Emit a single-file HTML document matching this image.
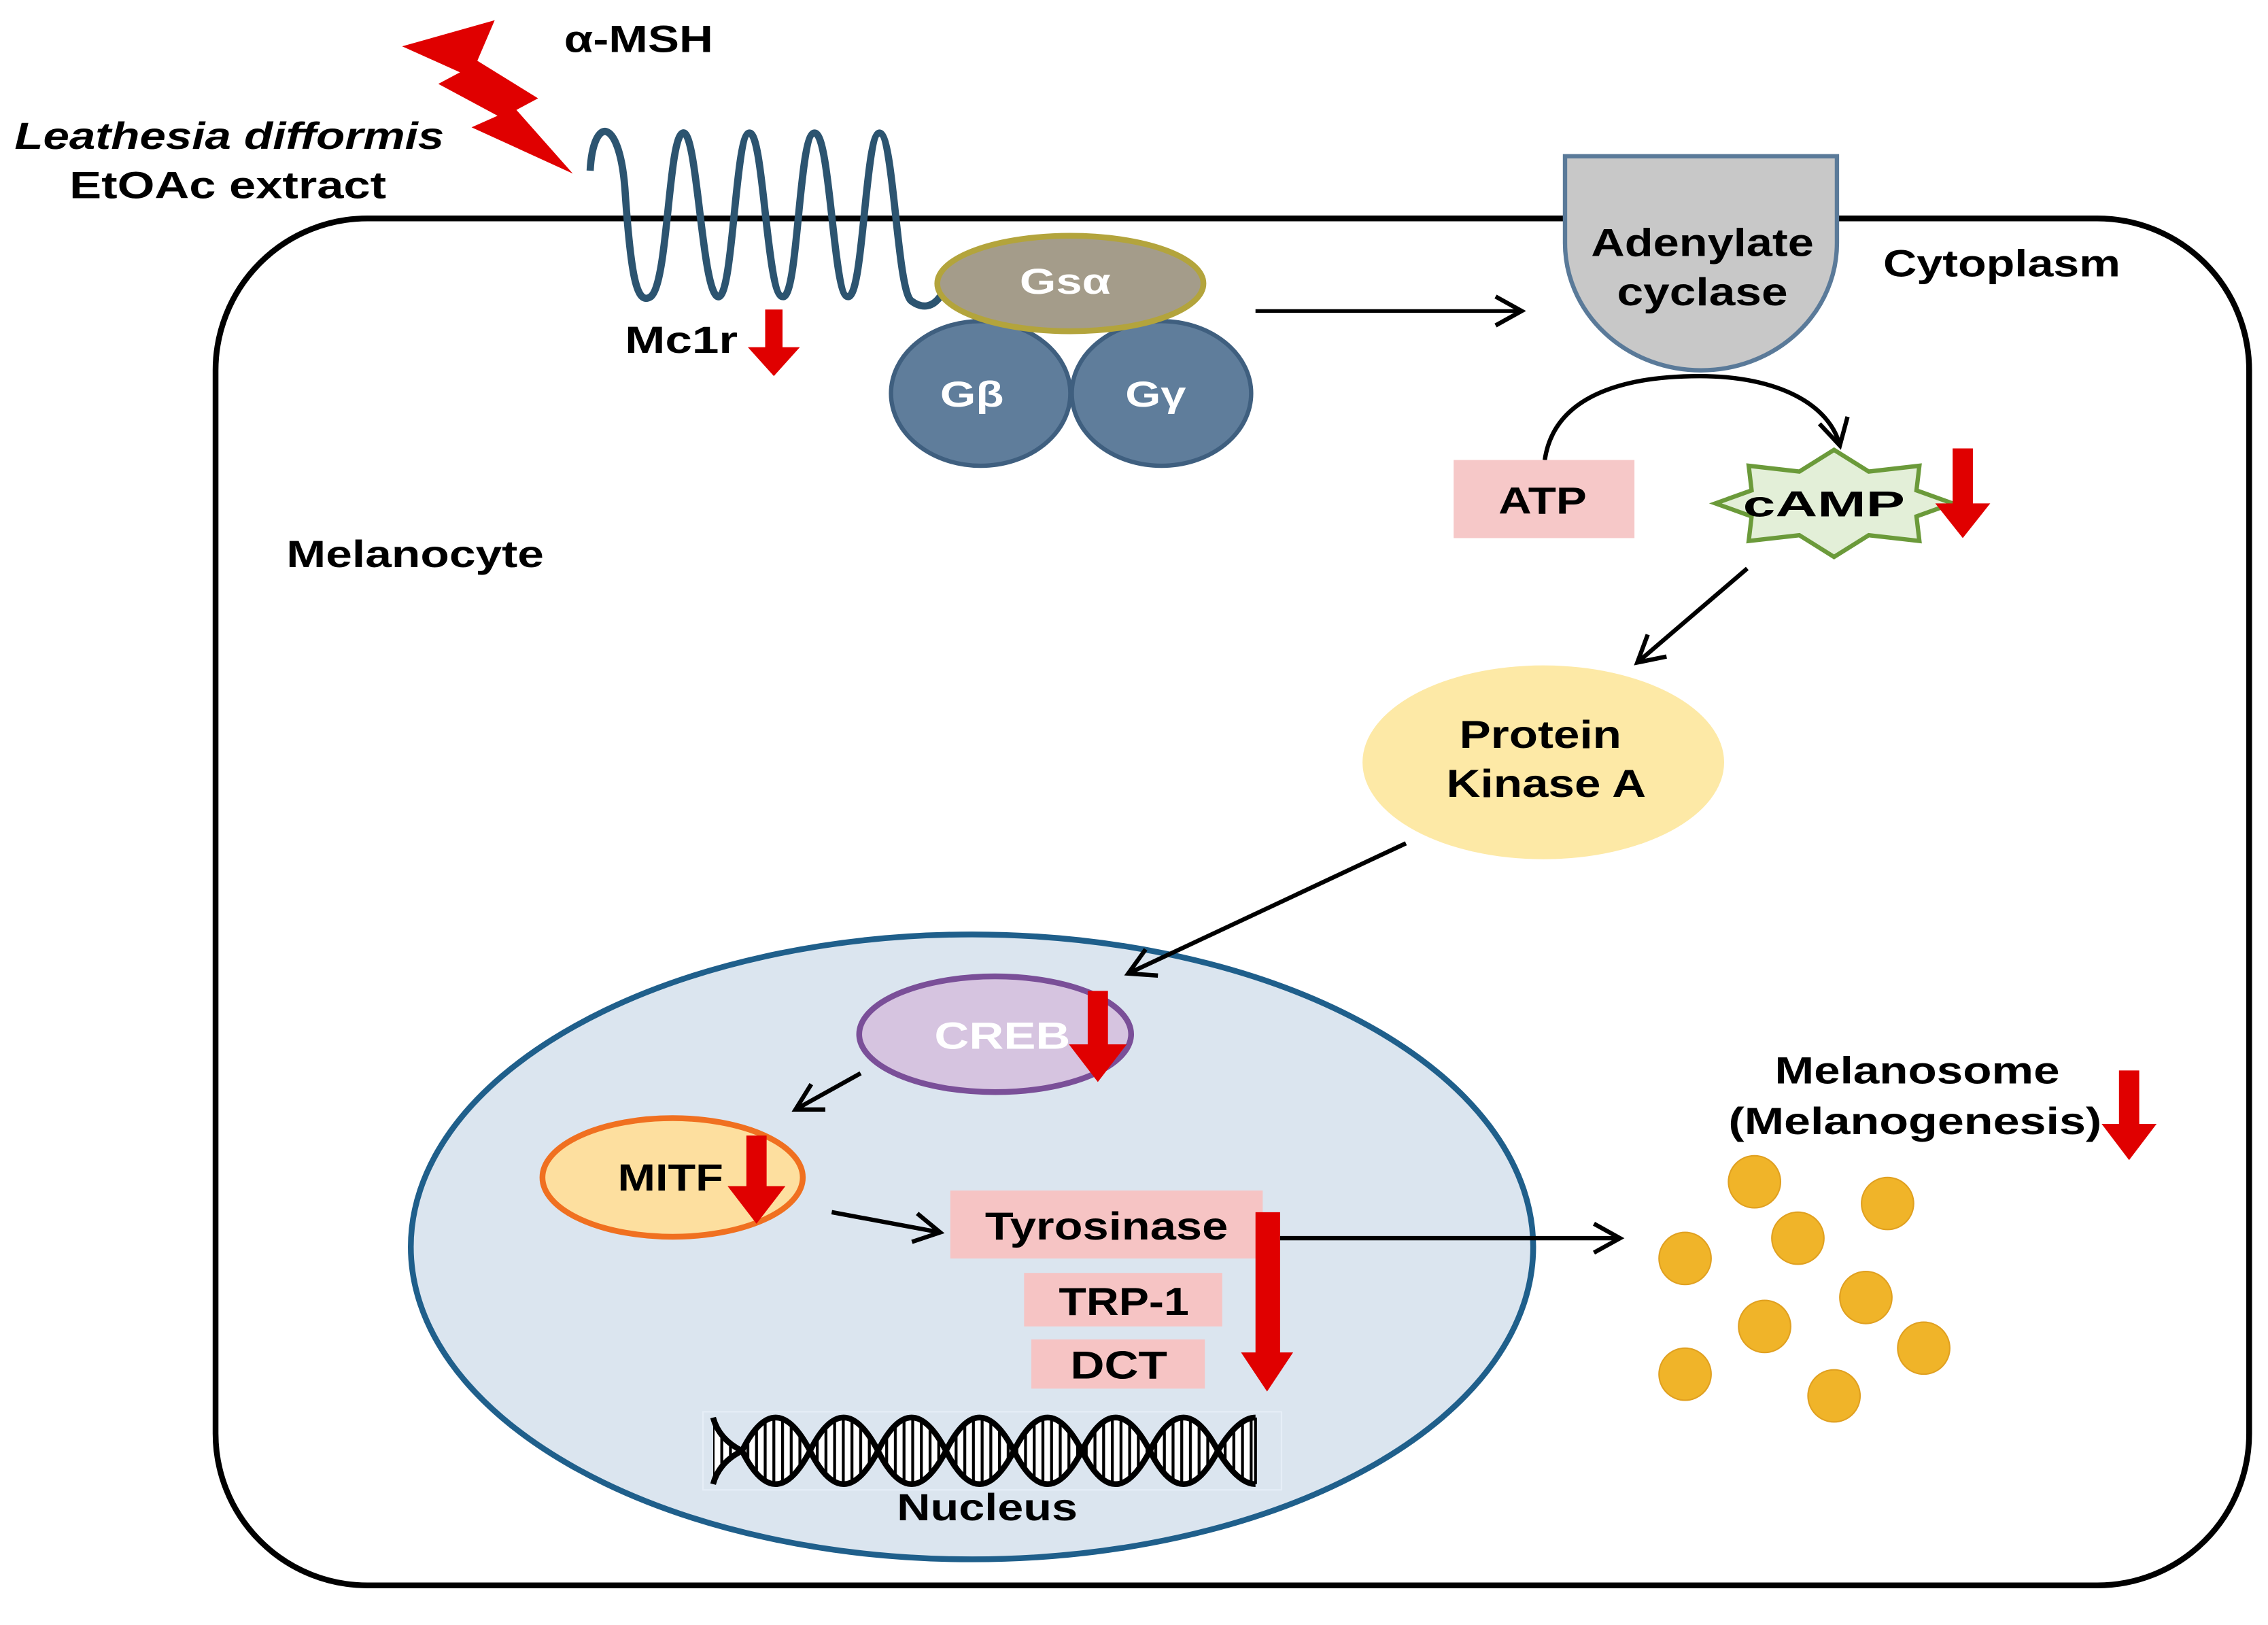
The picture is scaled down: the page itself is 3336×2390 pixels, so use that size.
<!DOCTYPE html>
<html><head><meta charset="utf-8"><style>html,body{margin:0;padding:0;background:#fff}svg{display:block}text{font-family:"Liberation Sans",Arial,sans-serif;font-weight:bold}</style></head>
<body>
<svg width="3336" height="2390" viewBox="0 0 1568 1123.4" xmlns="http://www.w3.org/2000/svg">
<defs>
<marker id="ah2" markerWidth="24" markerHeight="24" refX="20" refY="12" orient="auto" markerUnits="userSpaceOnUse"><path d="M2,2 L20,12 L2,22" fill="none" stroke="#000" stroke-width="3"/></marker>
<pattern id="rung" width="6" height="10" patternUnits="userSpaceOnUse"><rect width="6" height="10" fill="#fff"/><rect x="0" width="2" height="10" fill="#000"/></pattern>
<clipPath id="dnaclip">
<path d="M493,980 Q497,995 513,1003 Q536,1049 560,1003 Q583,957 607,1003 Q630,1049 654,1003 Q677,957 701,1003 Q724,1049 748,1003 Q771,957 795,1003 Q818,1049 842,1003 Q856,980 868,980 L868,1003 L493,1003 Z M493,1026 Q497,1011 513,1003 Q536,957 560,1003 Q583,1049 607,1003 Q630,957 654,1003 Q677,1049 701,1003 Q724,957 748,1003 Q771,1049 795,1003 Q818,957 842,1003 Q856,1026 868,1026 L868,1003 L493,1003 Z"/>
</clipPath>
</defs>

<rect x="149" y="151" width="1406" height="945" rx="105" ry="105" fill="#fff" stroke="#000" stroke-width="4"/>

<polygon points="278,32 342,14 330,42 372,68 357,76 396,120 326,88 344,80 303,58 318,50" fill="#e00000"/>
<text x="390" y="36" font-size="26" textLength="103" lengthAdjust="spacingAndGlyphs">α-MSH</text>
<text x="10" y="103" font-size="26" font-style="italic" textLength="297" lengthAdjust="spacingAndGlyphs">Leathesia difformis</text>
<text x="48" y="137" font-size="26" textLength="219" lengthAdjust="spacingAndGlyphs">EtOAc extract</text>

<path d="M408,118 C410,80 428,80 432,130 C436,190 440,212 450,205 C462,195 462,95 472,92 C482,88 485,200 496,205 C507,210 508,92 518,92 C528,90 530,205 541,205 C552,208 552,92 563,92 C574,90 576,205 586,205 C597,208 598,92 608,92 C618,92 620,200 630,208 C638,214 645,212 650,205" fill="none" stroke="#2c5470" stroke-width="5"/>
<text x="432" y="244" font-size="26" textLength="78" lengthAdjust="spacingAndGlyphs">Mc1r</text>
<polygon points="529,214 541,214 541,240 553,240 535,260 517,240 529,240" fill="#e00000"/>

<ellipse cx="678" cy="272" rx="62" ry="50" fill="#5f7d9b" stroke="#3f5f7f" stroke-width="3"/>
<ellipse cx="803" cy="272" rx="62" ry="50" fill="#5f7d9b" stroke="#3f5f7f" stroke-width="3"/>
<ellipse cx="740" cy="196" rx="92" ry="33" fill="#a49c8a" stroke="#b3a43c" stroke-width="4"/>
<text x="705" y="203" font-size="25" fill="#fff" textLength="63" lengthAdjust="spacingAndGlyphs">Gsα</text>
<text x="650" y="281" font-size="25" fill="#fff" textLength="44" lengthAdjust="spacingAndGlyphs">Gβ</text>
<text x="778" y="281" font-size="25" fill="#fff" textLength="42" lengthAdjust="spacingAndGlyphs">Gγ</text>

<line x1="868" y1="215" x2="1052" y2="215" stroke="#000" stroke-width="2.5" marker-end="url(#ah2)"/>

<path d="M1082,108 L1270,108 L1270,168 A94,88 0 0 1 1082,168 Z" fill="#c8c8c8" stroke="#5a7a99" stroke-width="3"/>
<text x="1100" y="177" font-size="27" textLength="154" lengthAdjust="spacingAndGlyphs">Adenylate</text>
<text x="1118" y="211" font-size="27" textLength="118" lengthAdjust="spacingAndGlyphs">cyclase</text>
<text x="1302" y="191" font-size="26" textLength="164" lengthAdjust="spacingAndGlyphs">Cytoplasm</text>

<path d="M1068,318 C1075,270 1130,260 1175,260 C1230,260 1265,280 1272,308" fill="none" stroke="#000" stroke-width="3" marker-end="url(#ah2)"/>

<rect x="1005" y="318" width="125" height="54" fill="#f6c8c8"/>
<text x="1036" y="355" font-size="26" textLength="61" lengthAdjust="spacingAndGlyphs">ATP</text>

<polygon points="1350,348 1325,339 1327,322 1292,326 1268,311 1244,326 1209,322 1211,339 1186,348 1211,357 1209,374 1244,370 1268,385 1292,370 1327,374 1325,357" fill="#e3efd8" stroke="#6b9a3a" stroke-width="3"/>
<text x="1205" y="357" font-size="25" textLength="112" lengthAdjust="spacingAndGlyphs">cAMP</text>
<polygon points="1350,310 1364,310 1364,348 1376,348 1357,372 1338,348 1350,348" fill="#e00000"/>

<line x1="1208" y1="393" x2="1132" y2="458" stroke="#000" stroke-width="3" marker-end="url(#ah2)"/>

<ellipse cx="1067" cy="527" rx="125" ry="67" fill="#fde9a6"/>
<text x="1009" y="517" font-size="27" textLength="112" lengthAdjust="spacingAndGlyphs">Protein</text>
<text x="1000" y="551" font-size="27" textLength="138" lengthAdjust="spacingAndGlyphs">Kinase A</text>

<text x="198" y="392" font-size="26" textLength="178" lengthAdjust="spacingAndGlyphs">Melanocyte</text>

<ellipse cx="672" cy="862" rx="388" ry="216" fill="#dbe5ef" stroke="#1f5f8b" stroke-width="4"/>

<line x1="972" y1="583" x2="780" y2="673" stroke="#000" stroke-width="3" marker-end="url(#ah2)"/>

<ellipse cx="688" cy="715" rx="94" ry="40" fill="#d6c4e0" stroke="#7a4f98" stroke-width="4"/>
<text x="646" y="725" font-size="26" fill="#fff" textLength="94" lengthAdjust="spacingAndGlyphs">CREB</text>
<polygon points="752,685 766,685 766,722 779,722 759,748 739,722 752,722" fill="#e00000"/>

<line x1="595" y1="742" x2="550" y2="767" stroke="#000" stroke-width="3" marker-end="url(#ah2)"/>

<ellipse cx="465" cy="814" rx="90" ry="41" fill="#fddf9f" stroke="#f07020" stroke-width="4"/>
<text x="427" y="823" font-size="26" textLength="73" lengthAdjust="spacingAndGlyphs">MITF</text>
<polygon points="516,785 530,785 530,820 543,820 523,846 503,820 516,820" fill="#e00000"/>

<line x1="575" y1="838" x2="650" y2="852" stroke="#000" stroke-width="3" marker-end="url(#ah2)"/>

<rect x="657" y="823" width="216" height="47" fill="#f6c4c4"/>
<text x="681" y="857" font-size="27" textLength="168" lengthAdjust="spacingAndGlyphs">Tyrosinase</text>
<rect x="708" y="880" width="137" height="37" fill="#f6c4c4"/>
<text x="732" y="909" font-size="27" textLength="90" lengthAdjust="spacingAndGlyphs">TRP-1</text>
<rect x="713" y="926" width="120" height="34" fill="#f6c4c4"/>
<text x="740" y="953" font-size="27" textLength="67" lengthAdjust="spacingAndGlyphs">DCT</text>
<polygon points="868,838 885,838 885,935 894,935 876,962 858,935 868,935" fill="#e00000"/>

<line x1="885" y1="856" x2="1120" y2="856" stroke="#000" stroke-width="3" marker-end="url(#ah2)"/>

<rect x="486" y="976" width="400" height="54" fill="none" stroke="#e6eef7" stroke-width="1"/>
<rect x="490" y="975" width="380" height="56" fill="url(#rung)" clip-path="url(#dnaclip)"/>
<path d="M493,980 Q497,995 513,1003 Q536,1049 560,1003 Q583,957 607,1003 Q630,1049 654,1003 Q677,957 701,1003 Q724,1049 748,1003 Q771,957 795,1003 Q818,1049 842,1003 Q856,980 868,980" fill="none" stroke="#000" stroke-width="4"/>
<path d="M493,1026 Q497,1011 513,1003 Q536,957 560,1003 Q583,1049 607,1003 Q630,957 654,1003 Q677,1049 701,1003 Q724,957 748,1003 Q771,1049 795,1003 Q818,957 842,1003 Q856,1026 868,1026" fill="none" stroke="#000" stroke-width="4"/>
<line x1="868" y1="980" x2="868" y2="1026" stroke="#000" stroke-width="2"/>
<text x="620" y="1051" font-size="26" textLength="125" lengthAdjust="spacingAndGlyphs">Nucleus</text>

<text x="1227" y="749" font-size="26" textLength="197" lengthAdjust="spacingAndGlyphs">Melanosome</text>
<text x="1195" y="784" font-size="26" textLength="258" lengthAdjust="spacingAndGlyphs">(Melanogenesis)</text>
<polygon points="1465,740 1479,740 1479,777 1491,777 1472,802 1453,777 1465,777" fill="#e00000"/>
<g fill="#f0b429" stroke="#e0a020" stroke-width="1">
<circle cx="1213" cy="817" r="18"/><circle cx="1305" cy="832" r="18"/><circle cx="1243" cy="856" r="18"/>
<circle cx="1165" cy="870" r="18"/><circle cx="1290" cy="897" r="18"/><circle cx="1220" cy="917" r="18"/>
<circle cx="1330" cy="932" r="18"/><circle cx="1165" cy="950" r="18"/><circle cx="1268" cy="965" r="18"/>
</g>
</svg>
</body></html>
